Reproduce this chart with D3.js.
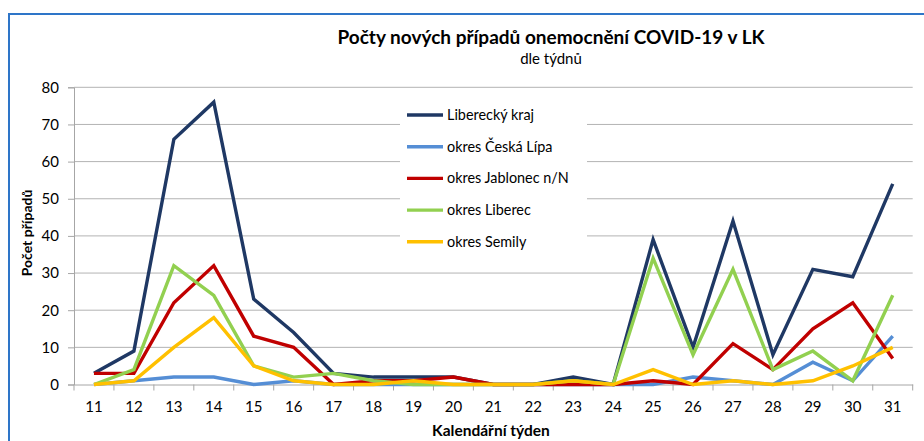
<!DOCTYPE html>
<html>
<head>
<meta charset="utf-8">
<script src="https://cdn.jsdelivr.net/npm/d3@7"></script>
<style>
  body { margin: 0; background: #fff; }
  text { font-family: Lato, "Open Sans", sans-serif; fill: #000; }
</style>
</head>
<body>
<div id="chart"></div>
<script>
const Width = 924;
const Height = 441;

// tydny
const weeks = ["11","12","13","14","15","16","17","18","19","20","21","22","23","24","25","26","27","28","29","30","31"];
const yTicks = [0, 10, 20, 30, 40, 50, 60, 70, 80];

const seriesNames = ["Liberecký kraj", "okres Česká Lípa", "okres Jablonec n/N", "okres Liberec", "okres Semily"];
const seriesColors = ["#1f3864", "#558ed5", "#c00000", "#92d050", "#ffc000"];

const liberecky = [3, 9, 66, 76, 23, 14, 3, 2, 2, 2, 0, 0, 2, 0, 39, 10, 44, 8, 31, 29, 54];
const ceskaLipa = [0, 1, 2, 2, 0, 1, 0, 0, 0, 0, 0, 0, 0, 0, 0, 2, 1, 0, 6, 1, 13];
const jablonec = [3, 3, 22, 32, 13, 10, 0, 1, 1, 2, 0, 0, 0, 0, 1, 0, 11, 4, 15, 22, 7];
const liberec = [0, 4, 32, 24, 5, 2, 3, 1, 0, 0, 0, 0, 1, 0, 34, 8, 31, 4, 9, 1, 24];
const semily = [0, 1, 10, 18, 5, 1, 0, 0, 1, 0, 0, 0, 1, 0, 4, 0, 1, 0, 1, 5, 10];

const allSeries = [liberecky, ceskaLipa, jablonec, liberec, semily];

const svg = d3.select("#chart").append("svg").attr("width", Width).attr("height", Height);

// ramecek
svg.append("rect")
    .attr("x", 9).attr("y", 14)
    .attr("width", Width + 20).attr("height", Height + 20)
    .attr("fill", "none")
    .attr("stroke", "#2e75c8")
    .attr("stroke-width", 2);

const x = d3.scaleBand().domain(weeks).range([74, 912.7]);
const y = d3.scaleLinear().domain([0, 80]).range([384.5, 87.3]);

// mrizka
svg.append("g")
    .selectAll("line")
    .data(yTicks.slice(1))
    .join("line")
    .attr("x1", 74).attr("x2", 912.7)
    .attr("y1", d => y(d)).attr("y2", d => y(d))
    .attr("stroke", "#b3b3b3")
    .attr("stroke-width", 1);

// osa y
const yAxis = svg.append("g")
    .attr("transform", "translate(74,0)")
    .call(d3.axisLeft(y).tickValues(yTicks).tickSize(6).tickPadding(9));
yAxis.select(".domain").attr("stroke", "#a6a6a6");
yAxis.selectAll(".tick line").attr("stroke", "#a6a6a6");
yAxis.selectAll(".tick text")
    .style("font-family", "Lato, sans-serif")
    .style("font-size", "15px")
    .attr("fill", "#000");

// osa x
const xAxis = svg.append("g")
    .attr("transform", `translate(0,${y(0)})`)
    .call(d3.axisBottom(x).tickSize(0).tickPadding(17));
xAxis.select(".domain").attr("stroke", "#a6a6a6");
xAxis.selectAll(".tick text")
    .style("font-family", "Lato, sans-serif")
    .style("font-size", "15px")
    .attr("fill", "#000");
svg.append("g")
    .selectAll("line")
    .data(weeks.concat(["end"]))
    .join("line")
    .attr("x1", (d, i) => i < weeks.length ? x(d) : x.range()[1])
    .attr("x2", (d, i) => i < weeks.length ? x(d) : x.range()[1])
    .attr("y1", y(0)).attr("y2", y(0) + 6)
    .attr("stroke", "#a6a6a6");

// legenda pozadi
svg.append("rect")
    .attr("x", 400).attr("y", 96)
    .attr("width", 187).attr("height", 164)
    .attr("fill", "#fff");

// cary
const line = d3.line()
    .x((d, i) => x(weeks[i]) + x.bandwidth() / 2)
    .y(d => y(d));

allSeries.forEach((s, k) => {
    svg.append("path")
        .attr("d", line(s))
        .attr("fill", "none")
        .attr("stroke", seriesColors[k])
        .attr("stroke-width", 3.4)
        .attr("stroke-linejoin", "miter");
});

// legenda
const legend = svg.append("g");
seriesNames.forEach((name, k) => {
    const ly = 115 + k * 31.7;
    legend.append("line")
        .attr("x1", 407).attr("x2", 443)
        .attr("y1", ly).attr("y2", ly)
        .attr("stroke", seriesColors[k])
        .attr("stroke-width", 3.4);
    legend.append("text")
        .attr("x", 447).attr("y", ly)
        .attr("dy", "0.35em")
        .style("font-size", "14.4px")
        .text(name);
});

// nadpisy
svg.append("text")
    .attr("x", 551).attr("y", 44)
    .attr("text-anchor", "middle")
    .style("font-size", "19px")
    .style("font-weight", "bold")
    .text("Počty nových případů onemocnění COVID-19 v LK");
svg.append("text")
    .attr("x", 551).attr("y", 64)
    .attr("text-anchor", "middle")
    .style("font-size", "15px")
    .text("dle týdnů");

svg.append("text")
    .attr("transform", "translate(32,233) rotate(-90)")
    .attr("text-anchor", "middle")
    .style("font-size", "14px")
    .style("font-weight", "bold")
    .text("Počet případů");

svg.append("text")
    .attr("x", 491).attr("y", 436)
    .attr("text-anchor", "middle")
    .style("font-size", "15.5px")
    .style("font-weight", "bold")
    .text("Kalendářní týden");
</script>
</body>
</html>
